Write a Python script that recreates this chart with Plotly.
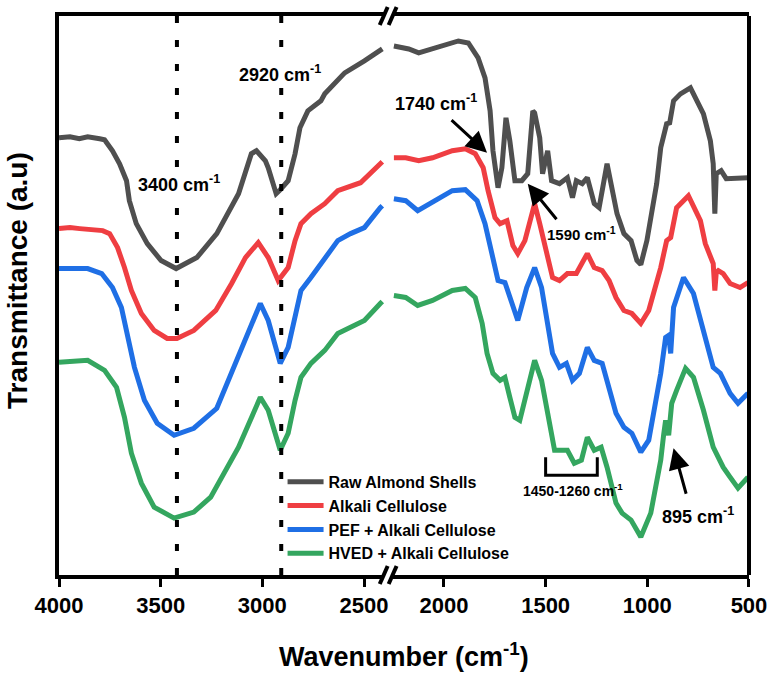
import plotly.graph_objects as go

# ---------------- data (wavenumber cm^-1, transmittance a.u.) ----------------
# left segment (4000-2400) and right segment (2250-500) of the broken axis
raw_wn_l = [4000, 3946, 3900, 3859, 3800, 3776, 3737, 3702, 3668, 3654, 3620, 3566, 3498, 3424, 3322, 3224,
            3117, 3054, 3029, 2985, 2971, 2932, 2912, 2873, 2839, 2815, 2776, 2712, 2693, 2595, 2498, 2420, 2410]
raw_t_l = [438, 439, 437, 439, 437, 436, 425, 412, 395, 375, 352, 332, 315, 307, 318, 342,
           382, 422, 425, 415, 408, 382, 386, 395, 422, 448, 465, 475, 482, 503, 515, 525, 527]
raw_wn_r = [2246, 2173, 2124, 2041, 1929, 1880, 1832, 1798, 1773, 1759, 1734, 1715, 1695, 1676, 1651, 1617,
            1588, 1563, 1554, 1529, 1515, 1490, 1471, 1432, 1393, 1368, 1349, 1320, 1295, 1261, 1237, 1198,
            1173, 1149, 1115, 1080, 1051, 1032, 1002, 954, 934, 905, 890, 871, 837, 788, 724, 690, 676, 668,
            661, 637, 612, 554, 505]
raw_t_r = [530, 527, 523, 528, 535, 533, 518, 498, 465, 425, 388, 408, 458, 435, 395, 395,
           402, 465, 463, 438, 402, 425, 395, 392, 398, 378, 395, 392, 398, 372, 368, 412,
           385, 362, 342, 335, 315, 311, 335, 392, 428, 452, 453, 475, 482, 488, 462, 435, 412, 362,
           402, 405, 397, 398, 398]

alk_wn_l = [4000, 3946, 3898, 3824, 3785, 3751, 3712, 3678, 3644, 3595, 3532, 3468, 3420, 3337, 3229, 3151,
            3083, 3020, 2971, 2922, 2873, 2839, 2810, 2761, 2693, 2629, 2566, 2517, 2420, 2410]
alk_t_l = [347, 348, 347, 346, 345, 342, 328, 308, 285, 262, 245, 237, 237, 245, 265, 292,
           318, 333, 318, 295, 308, 335, 352, 362, 372, 385, 390, 393, 412, 414]
alk_wn_r = [2246, 2188, 2124, 2056, 1959, 1895, 1846, 1807, 1783, 1749, 1724, 1690, 1661, 1637, 1602, 1568,
            1554, 1529, 1495, 1466, 1432, 1393, 1349, 1295, 1261, 1222, 1188, 1154, 1115, 1076, 1032, 993,
            934, 905, 885, 856, 798, 739, 715, 676, 668, 661, 651, 627, 593, 544, 505]
alk_t_r = [418, 418, 415, 418, 425, 427, 422, 408, 385, 358, 352, 355, 330, 322, 335, 362,
           372, 352, 322, 298, 295, 302, 302, 322, 308, 305, 295, 278, 265, 262, 252, 265,
           308, 335, 338, 368, 380, 355, 332, 312, 285, 303, 305, 302, 292, 288, 293]

pef_wn_l = [4000, 3946, 3859, 3790, 3737, 3693, 3668, 3629, 3580, 3517, 3434, 3337, 3224, 3117, 3010, 2971,
            2912, 2873, 2839, 2810, 2761, 2693, 2629, 2566, 2498, 2420, 2410]
pef_t_l = [307, 307, 307, 302, 288, 268, 242, 208, 175, 152, 140, 147, 167, 218, 272, 255,
           212, 228, 262, 285, 298, 318, 335, 342, 348, 368, 370]
pef_wn_r = [2246, 2188, 2129, 2056, 1959, 1895, 1837, 1798, 1763, 1734, 1700, 1661, 1637, 1593, 1554, 1520,
            1490, 1466, 1432, 1398, 1368, 1334, 1295, 1261, 1222, 1188, 1154, 1115, 1076, 1032, 993, 934,
            910, 895, 885, 871, 822, 773, 724, 676, 641, 593, 554, 505]
pef_t_r = [377, 375, 365, 373, 385, 386, 375, 352, 318, 295, 293, 268, 255, 288, 308, 288,
           255, 222, 208, 212, 195, 202, 228, 215, 212, 188, 162, 148, 142, 123, 135, 202,
           238, 240, 222, 268, 298, 282, 242, 208, 202, 182, 172, 182]

hved_wn_l = [4000, 3946, 3859, 3776, 3717, 3678, 3644, 3595, 3532, 3434, 3337, 3254, 3117, 3010, 2971, 2912,
             2873, 2839, 2810, 2761, 2693, 2629, 2566, 2498, 2420, 2410]
hved_t_l = [213, 214, 215, 205, 188, 158, 122, 92, 68, 57, 63, 78, 128, 178, 165, 125,
            142, 175, 198, 212, 225, 242, 248, 255, 272, 274]
hved_wn_r = [2246, 2188, 2129, 2056, 1959, 1895, 1846, 1812, 1788, 1759, 1724, 1700, 1676, 1651, 1627, 1593,
             1554, 1520, 1490, 1456, 1422, 1393, 1359, 1324, 1295, 1261, 1227, 1198, 1154, 1124, 1080, 1032,
             983, 934, 920, 910, 895, 880, 856, 812, 773, 724, 676, 627, 593, 554, 505]
hved_t_r = [280, 278, 270, 275, 285, 287, 278, 252, 222, 202, 195, 198, 178, 158, 155, 185,
            215, 195, 162, 125, 125, 125, 112, 115, 138, 125, 128, 108, 72, 62, 55, 38,
            62, 115, 140, 155, 140, 172, 185, 207, 198, 165, 128, 108, 98, 87, 98]

names = ["Raw Almond Shells", "Alkali Cellulose", "PEF + Alkali Cellulose", "HVED + Alkali Cellulose"]
colors = ["#4f4f4f", "#ef3e42", "#1f6fe5", "#34a65f"]

left_ticks = [4000, 3500, 3000, 2500]
right_ticks = [2000, 1500, 1000, 500]
marker_lines = [3420, 2907]

FONT = "Arial, 'Liberation Sans', sans-serif"

fig = go.Figure()
series = [
    (raw_wn_l, raw_t_l, raw_wn_r, raw_t_r),
    (alk_wn_l, alk_t_l, alk_wn_r, alk_t_r),
    (pef_wn_l, pef_t_l, pef_wn_r, pef_t_r),
    (hved_wn_l, hved_t_l, hved_wn_r, hved_t_r),
]
for (wl, tl, wr, tr), name, col in zip(series, names, colors):
    fig.add_trace(go.Scatter(x=wl, y=tl, mode="lines", name=name, legendgroup=name,
                             line=dict(color=col, width=5), xaxis="x", yaxis="y"))
    fig.add_trace(go.Scatter(x=wr, y=tr, mode="lines", name=name, legendgroup=name, showlegend=False,
                             line=dict(color=col, width=5), xaxis="x2", yaxis="y"))

L_DOM = [0, 0.4715]
R_DOM = [0.4842, 1]
axis_common = dict(showgrid=False, zeroline=False, showline=True, linewidth=4, linecolor="black",
                   mirror=True, ticks="outside", ticklen=8, tickwidth=3, tickcolor="black",
                   tickfont=dict(family=FONT, size=22, color="black", weight="bold"))

fig.update_layout(
    width=779, height=673,
    margin=dict(l=59, r=23, t=15, b=98),
    paper_bgcolor="white", plot_bgcolor="white",
    xaxis=dict(domain=L_DOM, range=[4000, 2400], tickvals=left_ticks, anchor="y", **axis_common),
    xaxis2=dict(domain=R_DOM, range=[2250, 500], tickvals=right_ticks, anchor="y", **axis_common),
    yaxis=dict(range=[0, 560], showgrid=False, zeroline=False, showticklabels=False, ticks="",
               showline=True, linewidth=4, linecolor="black", mirror=False),
    legend=dict(x=0.324, y=0.197, xanchor="left", yanchor="top", bgcolor="rgba(0,0,0,0)",
                font=dict(family=FONT, size=16, color="black", weight="bold"),
                tracegroupgap=0, itemwidth=36),
    showlegend=True,
)

shapes = []
# right frame line
shapes.append(dict(type="line", xref="paper", yref="paper", x0=1, x1=1, y0=0, y1=1,
                   line=dict(color="black", width=4)))
# dotted marker lines
for w in marker_lines:
    shapes.append(dict(type="line", xref="x", yref="y", x0=w, x1=w, y0=560, y1=0, layer="above",
                       line=dict(color="black", width=4, dash="7px,17px")))
# break marks
def px(xp):
    return (xp - 59) / 697.0
def py(yp):
    return (575 - yp) / 560.0
for cx in (387, 396):
    for cy in (575, 15):
        shapes.append(dict(type="line", xref="paper", yref="paper",
                           x0=px(cx - 4), y0=py(cy + 9), x1=px(cx + 4), y1=py(cy - 9),
                           line=dict(color="black", width=4)))
# bracket 1450-1260
shapes.append(dict(type="path", xref="x2", yref="y", path="M1500,118 L1500,100 L1246,100 L1246,118",
                   line=dict(color="black", width=3)))
fig.update_layout(shapes=shapes)

ann = []
def label(text, x, y, xref, size):
    return dict(text="<b>" + text + "</b>", x=x, y=y, xref=xref, yref="y", showarrow=False,
                xanchor="center", yanchor="middle",
                font=dict(family=FONT, size=size, color="black"), bgcolor="white", borderpad=0)
ann.append(label("3400 cm<sup>-1</sup>", 3410, 392, "x", 18))
ann.append(label("2920 cm<sup>-1</sup>", 2912, 502, "x", 18))
ann.append(label("1740 cm<sup>-1</sup>", 2037, 473, "x2", 18))
ann.append(dict(text="<b>1590 cm<sup>-1</sup></b>", x=1324, y=342, xref="x2", yref="y", showarrow=False,
                xanchor="center", yanchor="middle", font=dict(family=FONT, size=15, color="black")))
ann.append(dict(text="<b>1450-1260 cm<sup>-1</sup></b>", x=1363, y=85, xref="x2", yref="y", showarrow=False,
                xanchor="center", yanchor="middle", font=dict(family=FONT, size=14, color="black")))
ann.append(dict(text="<b>895 cm<sup>-1</sup></b>", x=749, y=60, xref="x2", yref="y", showarrow=False,
                xanchor="center", yanchor="middle", font=dict(family=FONT, size=18, color="black")))
# arrows
for (x, y, ax, ay) in [(1788, 423, -37, -34), (1588, 392, 30, 37), (871, 127, 13, 47)]:
    ann.append(dict(text="", x=x, y=y, xref="x2", yref="y", showarrow=True, ax=ax, ay=ay,
                    arrowhead=2, arrowsize=1.4, arrowwidth=3, arrowcolor="black"))
# axis titles
ann.append(dict(text="<b>Wavenumber (cm<sup>-1</sup>)</b>", x=0.5, y=py(655), xref="paper", yref="paper",
                xanchor="center", yanchor="middle",
                showarrow=False, font=dict(family=FONT, size=27, color="black")))
ann.append(dict(text="<b>Transmittance (a.u)</b>", x=px(17), y=py(280), xref="paper", yref="paper",
                xanchor="center", yanchor="middle",
                showarrow=False, textangle=-90, font=dict(family=FONT, size=28, color="black")))
fig.update_layout(annotations=ann)

fig.write_html("out.html")
